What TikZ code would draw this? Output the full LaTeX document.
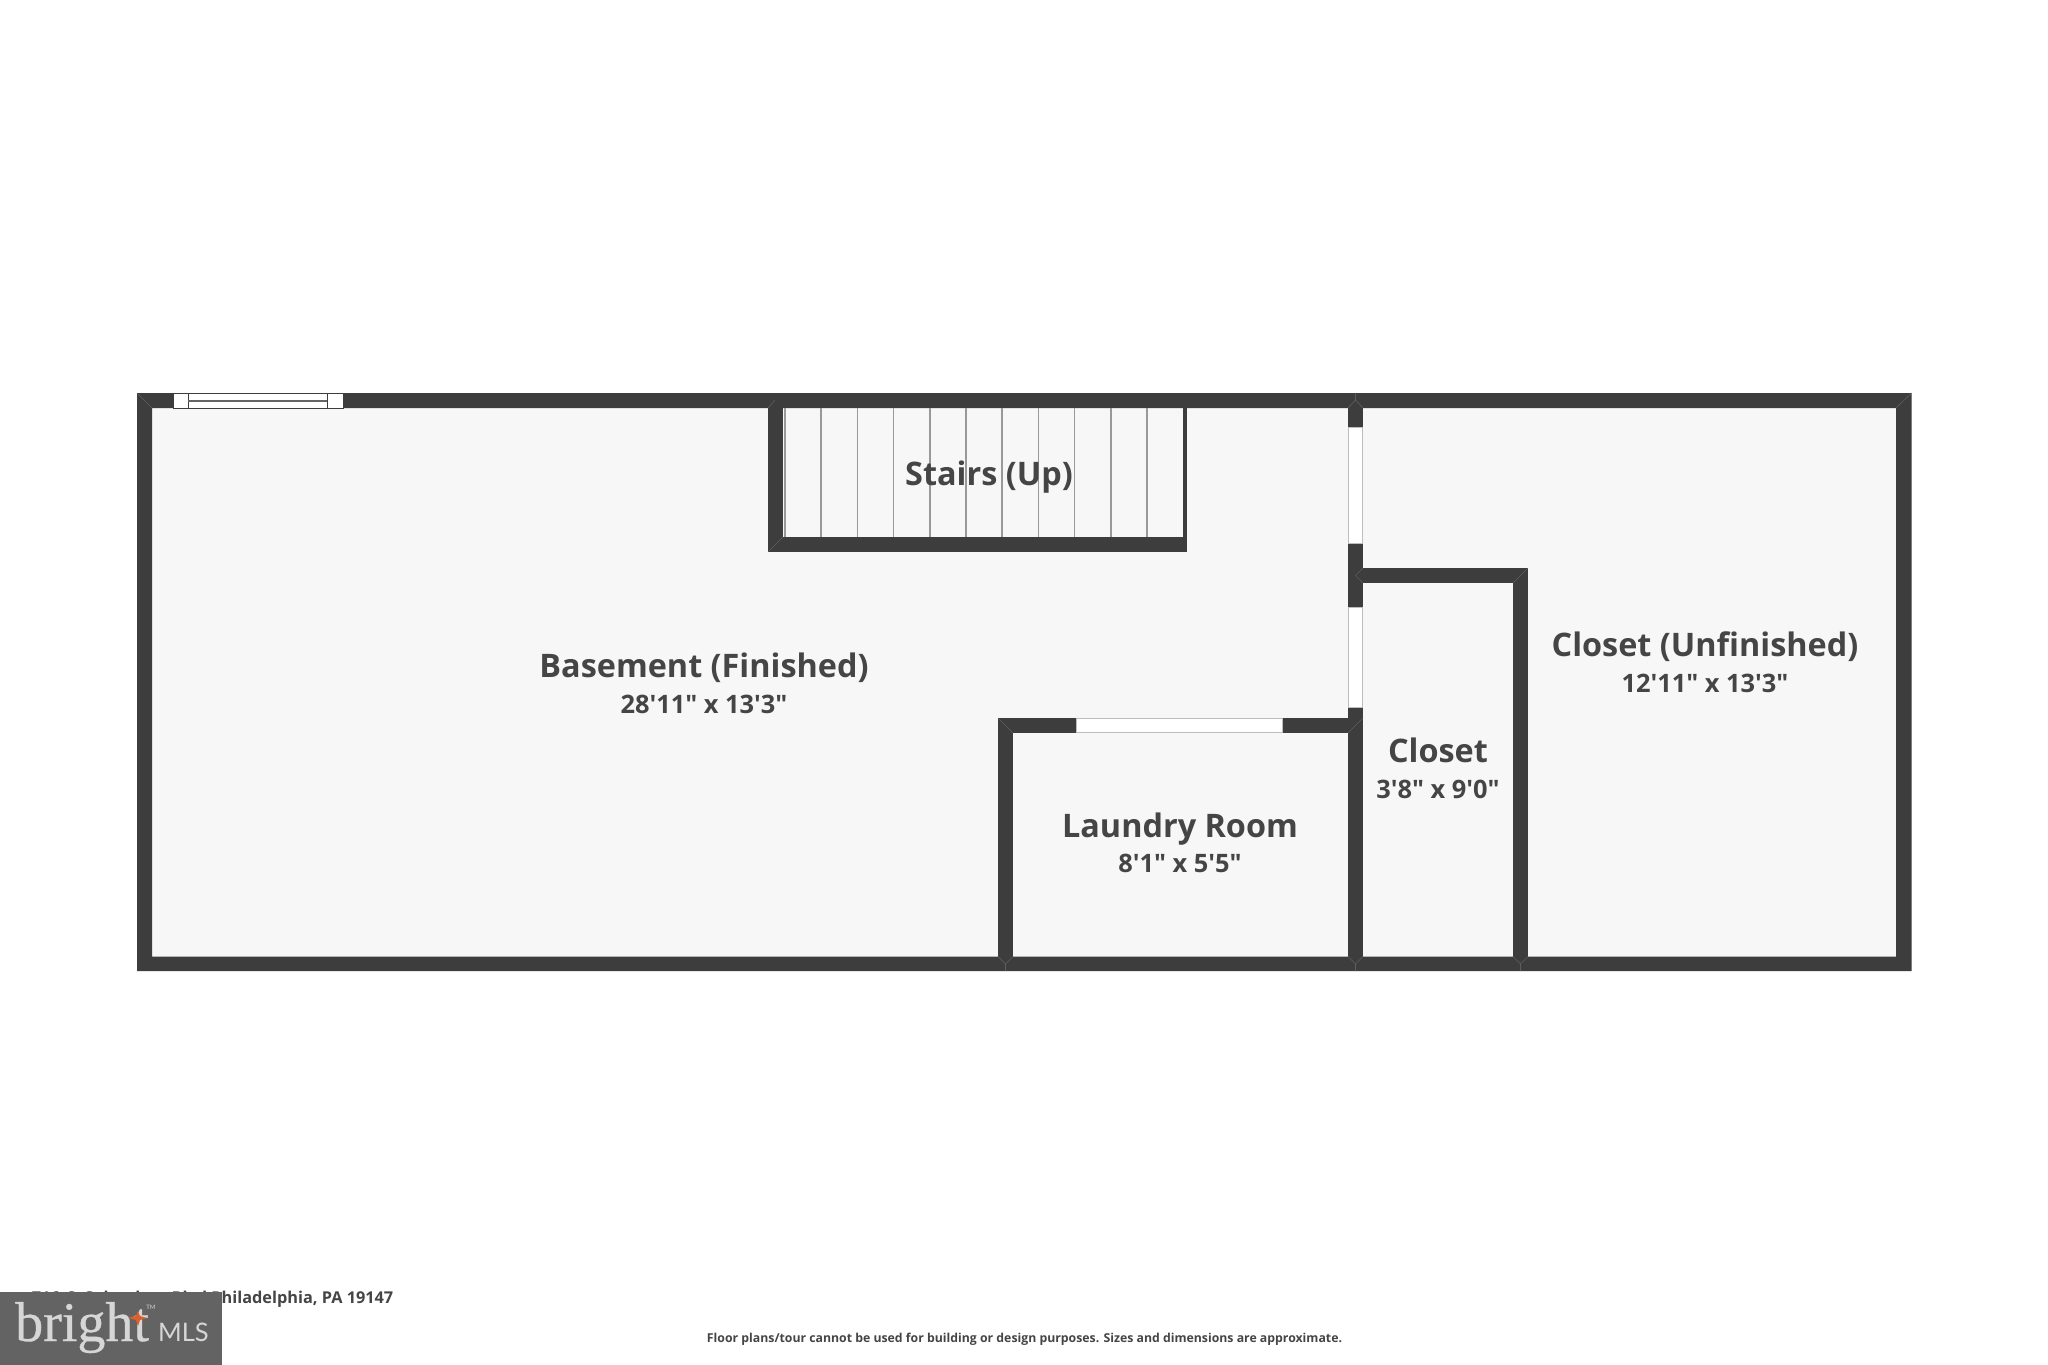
\documentclass[tikz,border=0pt]{standalone}
\usepackage{fontspec}
\setmainfont{Open Sans}[Ligatures=TeXOff]
\newfontfamily\logoserif{Liberation Serif}[FakeBold=0.6]
\newfontfamily\logosans{Lato}
\definecolor{wallc}{HTML}{3D3D3D}
\definecolor{floorc}{HTML}{F7F7F7}
\definecolor{labelc}{HTML}{454545}
\definecolor{gapline}{HTML}{BDBDBD}
\definecolor{treadc}{HTML}{999999}
\definecolor{logobg}{HTML}{636363}
\definecolor{logofg}{HTML}{D6D6D6}
\definecolor{logostar}{HTML}{DD5F2C}
\definecolor{seamc}{HTML}{5E5E5E}
\tikzset{
  wall/.style={fill=wallc,draw=none},
  opening/.style={fill=white,draw=gapline,line width=1pt},
  tread/.style={draw=treadc,line width=1.7pt},
  seam/.style={draw=seamc,line width=0.6pt},
  roomname/.style={text=labelc,font=\fontsize{32.4}{36}\selectfont\bfseries,anchor=center,inner sep=0pt},
  roomdim/.style={text=labelc,font=\fontsize{25.4}{30}\selectfont\bfseries,anchor=center,inner sep=0pt},
  small/.style={text=labelc,font=\fontsize{16.3}{18}\selectfont\bfseries,inner sep=0pt}
}
\begin{document}
\begin{tikzpicture}[x=1pt,y=-1pt]
\useasboundingbox (0,0) rectangle (2048,1365);
\fill[white] (0,0) rectangle (2048,1365);
% floor
\fill[floorc] (137,393) rectangle (1911.5,971);
% outer walls
\fill[wall,even odd rule] (137,393) rectangle (1911.5,971) (152,408) rectangle (1896,956.5);
% stairs
\fill[wall] (768,408) rectangle (783,552);
\fill[wall] (768,537) rectangle (1187,552);
\fill[wall] (1183,408) rectangle (1187,552);
\foreach \k in {0,...,10}{\draw[tread] ({785+\k*36.2},408) -- ({785+\k*36.2},537);}
% vertical divider
\fill[wall] (1348,408) rectangle (1363,956.5);
% closet walls
\fill[wall] (1363,568) rectangle (1528,583);
\fill[wall] (1513,568) rectangle (1528,956.5);
% laundry walls
\fill[wall] (998,718) rectangle (1348,733);
\fill[wall] (998,718) rectangle (1013,956.5);
% openings
\draw[opening] (1348.5,427) rectangle (1362.5,543);
\draw[opening] (1348.5,607) rectangle (1362.5,707);
\draw[opening] (1076,718.5) rectangle (1282,732.5);
\draw[fill=white,draw=wallc,line width=1pt] (173,393.5) rectangle (343,408);
\draw[wallc,line width=1pt] (188,393.5) -- (188,408) (327,393.5) -- (327,408);
\draw[wallc!80,line width=1.2pt] (188,401) -- (327,401);
% seams
\draw[seam] (137,393) -- (152,408);
\draw[seam] (1911.5,393) -- (1896,408);
\draw[seam] (1355.5,393) -- (1355.5,400) (1348,408) -- (1355.5,400) -- (1363,408);
\draw[seam] (1513,583) -- (1528,568);
\draw[seam] (1363,568) -- (1355.5,575.5) -- (1363,583);
\draw[seam] (768,408) -- (775,400) (768,552) -- (783,537);
\draw[seam] (998,718) -- (1013,733);
\draw[seam] (1348,733) -- (1355.5,725.5) -- (1363,718);
\draw[seam] (1005.5,971) -- (1005.5,964) (998,956.5) -- (1005.5,964) -- (1013,956.5);
\draw[seam] (1355.5,971) -- (1355.5,964) (1348,956.5) -- (1355.5,964) -- (1363,956.5);
\draw[seam] (1520.5,971) -- (1520.5,964) (1513,956.5) -- (1520.5,964) -- (1528,956.5);
% labels
\node[roomname] (basement) at (704,667.5) {Basement (Finished)};
\node[roomdim] (basementdim) at (704,704) {28'11" x 13'3"};
\node[roomname] (stairs) at (989,477.5) {Stairs (Up)};
\node[roomname] (unf) at (1705,646.5) {Closet (Unfinished)};
\node[roomdim] (unfdim) at (1705,683) {12'11" x 13'3"};
\node[roomname] (laundry) at (1180,829.5) {Laundry Room};
\node[roomdim] (laundrydim) at (1180,863) {8'1" x 5'5"};
\node[roomname] (closet) at (1438,750) {Closet};
\node[roomdim] (closetdim) at (1438,789) {3'8" x 9'0"};
% footer
\node[small,anchor=east] (addr) at (393.5,1299) {716\hspace{3pt} S\hspace{3pt} Columbus\hspace{3pt} Blvd Philadelphia, PA 19147};
\node[text=labelc,font=\fontsize{12.28}{14}\selectfont\bfseries,inner sep=0pt] (disc) at (1024.5,1339) {Floor plans/tour cannot be used for building or design purposes. Sizes and dimensions are approximate.};
% logo
\fill[logobg] (0,1292) rectangle (222,1365);
\node[text=logofg,font=\fontsize{56}{56}\logoserif,inner sep=0pt,anchor=base west] (brand) at (15,1341) {bright};
\fill[logostar] (138,1311) -- (140,1316) -- (147,1318) -- (140,1320) -- (138,1326) -- (136,1320) -- (128,1318) -- (136,1316) -- cycle;
\node[text=logofg,font=\fontsize{6}{7}\logosans,inner sep=0pt] (tm) at (151,1307) {TM};
\node[text=logofg,font=\fontsize{25.5}{27}\logosans,inner sep=0pt,anchor=base west] (mls) at (158,1341) {MLS};
\end{tikzpicture}
\end{document}
